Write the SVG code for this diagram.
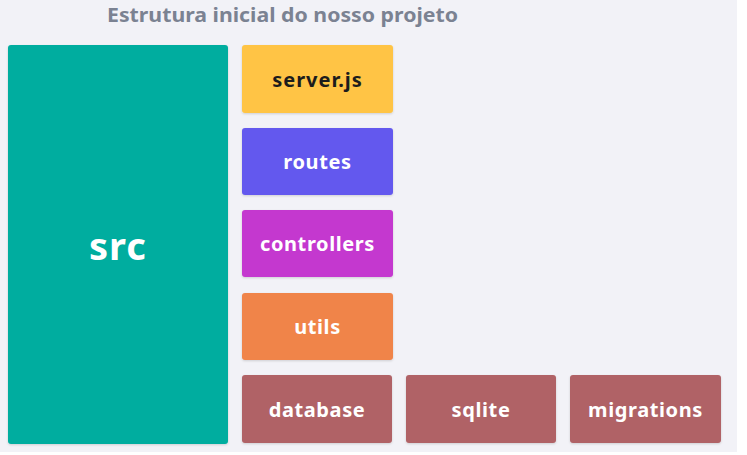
<svg xmlns="http://www.w3.org/2000/svg" width="747" height="455" viewBox="0 0 747 455">
<defs>
<style>
.box{stroke:none}
.lbl{font-family:"Noto Sans","Open Sans","Liberation Sans",sans-serif;font-weight:700;font-size:20px;letter-spacing:0.6px;fill:#ffffff;text-anchor:middle;dominant-baseline:central}
.title{font-family:"Noto Sans","Open Sans","Liberation Sans",sans-serif;font-weight:700;font-size:19px;fill:#7b8292}
</style>
<filter id="sh" x="-10%" y="-10%" width="120%" height="130%">
<feDropShadow dx="0" dy="1" stdDeviation="1" flood-color="#000" flood-opacity="0.15"/>
</filter>
</defs>
<rect width="747" height="455" fill="#ffffff"/>
<rect width="737" height="452" fill="#f2f2f7"/>
<text class="title" x="107" y="22" textLength="351" lengthAdjust="spacingAndGlyphs">Estrutura inicial do nosso projeto</text>
<g id="src"><rect class="box" filter="url(#sh)" x="8" y="45" width="220" height="399" rx="3" fill="#00ad9f"/><text class="lbl" x="118" y="245" style="font-size:38px;letter-spacing:1px">src</text></g>
<g id="server"><rect class="box" filter="url(#sh)" x="242" y="45" width="151" height="68" rx="3" fill="#ffc444"/><text class="lbl" x="317.5" y="79" style="fill:#1c1c1c;letter-spacing:1px">server.js</text></g>
<g id="routes"><rect class="box" filter="url(#sh)" x="242" y="128" width="151" height="67" rx="3" fill="#6358ee"/><text class="lbl" x="317.5" y="161.5">routes</text></g>
<g id="controllers"><rect class="box" filter="url(#sh)" x="242" y="210" width="151" height="67" rx="3" fill="#c438cf"/><text class="lbl" x="317.5" y="243.5">controllers</text></g>
<g id="utils"><rect class="box" filter="url(#sh)" x="242" y="293" width="151" height="67" rx="3" fill="#f0844a"/><text class="lbl" x="317.5" y="326.5">utils</text></g>
<g id="database"><rect class="box" filter="url(#sh)" x="242" y="375" width="150" height="68" rx="3" fill="#b06266"/><text class="lbl" x="317" y="409">database</text></g>
<g id="sqlite"><rect class="box" filter="url(#sh)" x="406" y="375" width="150" height="68" rx="3" fill="#b06266"/><text class="lbl" x="481" y="409">sqlite</text></g>
<g id="migrations"><rect class="box" filter="url(#sh)" x="570" y="375" width="151" height="68" rx="3" fill="#b06266"/><text class="lbl" x="645.5" y="409">migrations</text></g>
<g id="connectors"></g>
</svg>
